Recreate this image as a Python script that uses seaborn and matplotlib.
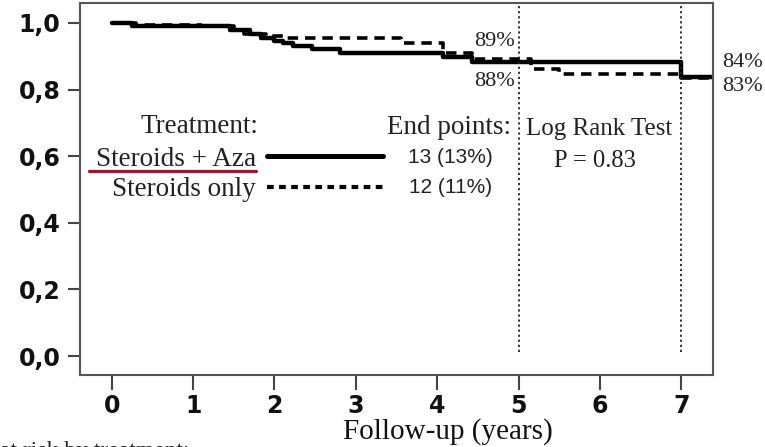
import numpy as np
import pandas as pd
import matplotlib
matplotlib.use('Agg')
import matplotlib.pyplot as plt
import seaborn as sns
from matplotlib.lines import Line2D

# Kaplan-Meier estimates
aza_time = [0.0, 0.25, 1.45, 1.70, 1.83, 2.00, 2.10, 2.23, 2.46, 2.80, 4.07, 4.43, 7.00, 7.38]
aza_surv = [1.000, 0.990, 0.980, 0.968, 0.955, 0.947, 0.939, 0.931, 0.921, 0.911, 0.897, 0.882, 0.839, 0.839]

only_time = [0.0, 0.30, 1.10, 1.50, 1.62, 1.90, 2.15, 3.55, 4.07, 4.43, 5.15, 5.50, 7.00, 7.38]
only_surv = [1.000, 0.995, 0.990, 0.978, 0.966, 0.960, 0.954, 0.940, 0.911, 0.891, 0.861, 0.846, 0.834, 0.834]

groups = ['Steroids + Aza', 'Steroids only']
end_points = ['13 (13%)', '12 (11%)']
x_ticks = [0, 1, 2, 3, 4, 5, 6, 7]
y_ticks = [0.0, 0.2, 0.4, 0.6, 0.8, 1.0]
y_tick_labels = ['0,0', '0,2', '0,4', '0,6', '0,8', '1,0']
marks = [5, 7]

df = pd.concat([
    pd.DataFrame({'time': aza_time, 'surv': aza_surv, 'group': groups[0]}),
    pd.DataFrame({'time': only_time, 'surv': only_surv, 'group': groups[1]}),
])

sns.set_style('white')
plt.rcParams['font.family'] = ['Liberation Serif', 'DejaVu Serif']

fig = plt.figure(figsize=(7.65, 4.47), dpi=100)
ax = fig.add_axes([80 / 765, 72 / 447, 633 / 765, 372 / 447])

sns.lineplot(data=df[df.group == groups[0]], x='time', y='surv', ax=ax,
             color='black', lw=3.2, drawstyle='steps-post', estimator=None,
             legend=False)
sns.lineplot(data=df[df.group == groups[1]], x='time', y='surv', ax=ax,
             color='black', lw=2.6, drawstyle='steps-post', estimator=None,
             linestyle=(0, (2.9, 1.9)), legend=False)

ax.vlines(marks, 0.012, 1.06, colors='#222222', linestyles=(0, (1.2, 1.6)), lw=1.3)

ax.set_xlim(-0.39, 7.39)
ax.set_ylim(-0.057, 1.06)
ax.set_xticks(x_ticks)
ax.set_yticks(y_ticks)
ax.set_yticklabels(y_tick_labels)
ax.set_xlabel('')
ax.set_ylabel('')
for lab in ax.get_xticklabels() + ax.get_yticklabels():
    lab.set_family('DejaVu Sans')
    lab.set_fontweight('bold')
    lab.set_fontsize(17)
    lab.set_color('#111111')
ax.tick_params(axis='x', direction='out', length=11, width=1.5, pad=3, colors='#444444',
               labelcolor='#111111', bottom=True)
ax.tick_params(axis='y', direction='out', length=9, width=1.5, pad=5, colors='#444444',
               labelcolor='#111111', left=True)
for s in ax.spines.values():
    s.set_color('#555555')
    s.set_linewidth(1.5)

# legend: label first, line sample after it
handles = [Line2D([], [], color='black', lw=3.6),
           Line2D([], [], color='black', lw=3.0, linestyle=(0, (1.6, 1.3)))]
leg = ax.legend(handles, groups, loc='center right', bbox_to_anchor=(3.34, 0.545),
                bbox_transform=ax.transData, frameon=False, markerfirst=False,
                fontsize=19.5, handlelength=4.3, handletextpad=0.4, labelspacing=0.2,
                borderpad=0, borderaxespad=0)
for t in leg.get_texts():
    t.set_color('#222222')

txt = dict(color='#222222', va='center')
ax.text(1.80, 0.688, 'Treatment:', ha='right', fontsize=19.5, **txt)
ax.text(4.14, 0.685, 'End points:', ha='center', fontsize=19.5, **txt)
ax.text(5.99, 0.682, 'Log Rank Test', ha='center', fontsize=18, **txt)
ax.text(5.94, 0.586, 'P = 0.83', ha='center', fontsize=17.7, **txt)
for yv, ep in zip([0.595, 0.505], end_points):
    ax.text(4.16, yv, ep, ha='center', fontsize=15, family='Liberation Sans', **txt)

ax.text(4.96, 0.943, '89%', ha='right', fontsize=16, **txt)
ax.text(4.96, 0.823, '88%', ha='right', fontsize=16, **txt)
ax.text(7.50, 0.880, '84%', ha='left', fontsize=16, clip_on=False, **txt)
ax.text(7.50, 0.808, '83%', ha='left', fontsize=16, clip_on=False, **txt)

fig.text(448 / 765, 1 - 432 / 447, 'Follow-up (years)', ha='center', va='center',
         fontsize=21, color='#111111')
fig.text(0.0, 1 - 452 / 447, 'at risk by treatment:', ha='left', va='center',
         fontsize=17, color='#222222')

# red underline below the first legend label
fig.canvas.draw()
bb = leg.get_texts()[0].get_window_extent()
fig.add_artist(Line2D([(bb.x0 - 7) / 765, bb.x1 / 765], [(bb.y0 + 1) / 447] * 2,
                      color='#a01530', lw=2.4, transform=fig.transFigure))

fig.savefig('out.png', dpi=100)
